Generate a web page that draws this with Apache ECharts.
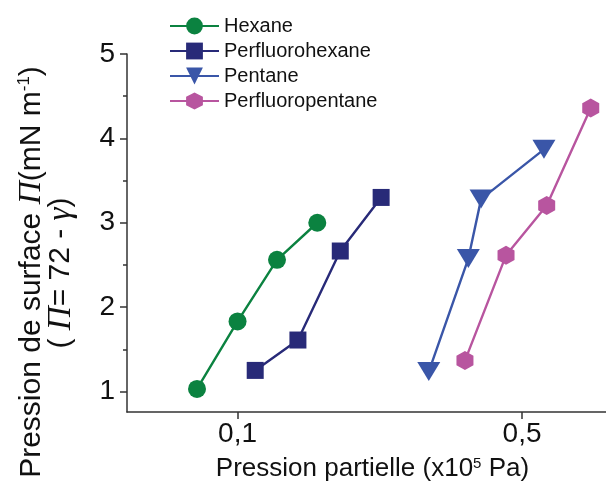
<!DOCTYPE html>
<html>
<head>
<meta charset="utf-8">
<script src="https://cdn.jsdelivr.net/npm/echarts@6/dist/echarts.min.js"></script>
<style>
  html, body { margin: 0; padding: 0; background: #ffffff; }
  #chart { width: 606px; height: 487px; }
</style>
</head>
<body>
<div id="chart"></div>
<script>
// Partial pressure (x10^5 Pa) and surface pressure (mN/m) for each vapour
const hexaneP = [0.0795, 0.1, 0.125, 0.157];
const hexaneV = [1.03, 1.83, 2.56, 3.0];
const pfHexaneP = [0.1105, 0.1407, 0.1788, 0.2253];
const pfHexaneV = [1.25, 1.61, 2.665, 3.30];
const pentaneP = [0.295, 0.369, 0.3966, 0.566];
const pentaneV = [1.236, 2.575, 3.28, 3.87];
const pfPentaneP = [0.362, 0.4567, 0.5748, 0.7375];
const pfPentaneV = [1.366, 2.614, 3.205, 4.359];

const seriesNames = ['Hexane', 'Perfluorohexane', 'Pentane', 'Perfluoropentane'];
const xTicks = [0.1, 0.5];
const yTicks = [1, 2, 3, 4, 5];
const yMinorTicks = [1.5, 2.5, 3.5, 4.5];

const FONT = '"Liberation Sans", Arial, sans-serif';
const SERIF = '"Liberation Serif", "Times New Roman", serif';
const AXIS_COLOR = '#333333';

const HEXAGON = 'path://M0,-1 L0.866,-0.5 L0.866,0.5 L0,1 L-0.866,0.5 L-0.866,-0.5 Z';
const TRIANGLE_DOWN = 'path://M0,0 L2,0 L1,1.73 Z';

function pairs(xs, ys) {
  return xs.map((x, i) => [x, ys[i]]);
}

function lineSeries(name, xs, ys, color, symbol, size) {
  return {
    name: name,
    type: 'line',
    data: pairs(xs, ys),
    symbol: symbol,
    symbolSize: size,
    showSymbol: true,
    lineStyle: { color: color, width: 2.4 },
    itemStyle: { color: color },
    emphasis: { disabled: true },
    animation: false
  };
}

const chart = echarts.init(document.getElementById('chart'), null, { renderer: 'canvas' });

chart.setOption({
  backgroundColor: '#ffffff',
  animation: false,
  grid: { left: 127, right: 0, top: 54, bottom: 74, containLabel: false },
  legend: {
    orient: 'vertical',
    left: 169,
    top: 16,
    itemWidth: 49,
    itemHeight: 21,
    itemGap: 5,
    padding: 0,
    textStyle: { fontFamily: FONT, fontSize: 20, color: '#111111' },
    data: seriesNames
  },
  xAxis: {
    type: 'log',
    logBase: 10,
    min: 0.0535,
    max: 0.804,
    axisLine: { show: true, lineStyle: { color: AXIS_COLOR, width: 1.5 } },
    axisTick: { show: true, customValues: xTicks, length: 7, inside: false, lineStyle: { color: AXIS_COLOR, width: 1.5 } },
    minorTick: { show: false },
    splitLine: { show: false },
    axisLabel: {
      customValues: xTicks,
      formatter: v => String(v).replace('.', ','),
      fontFamily: FONT,
      fontSize: 28,
      color: '#111111',
      margin: 8
    },
    name: 'Pression partielle (x10{sup|5} Pa)',
    nameLocation: 'middle',
    nameGap: 44,
    nameTextStyle: {
      fontFamily: FONT,
      fontSize: 26,
      color: '#111111',
      padding: [0, 0, 0, 12],
      rich: { sup: { fontFamily: FONT, fontSize: 15, verticalAlign: 'top', color: '#111111' } }
    }
  },
  yAxis: [
    {
      type: 'value',
      min: 0.757,
      max: 5,
      axisLine: { show: true, lineStyle: { color: AXIS_COLOR, width: 1.5 } },
      axisTick: { show: true, customValues: yTicks, length: 7, inside: false, lineStyle: { color: AXIS_COLOR, width: 1.5 } },
      splitLine: { show: false },
      axisLabel: {
        customValues: yTicks,
        fontFamily: FONT,
        fontSize: 28,
        color: '#111111',
        margin: 12
      }
    },
    {
      type: 'value',
      min: 0.757,
      max: 5,
      position: 'left',
      axisLine: { show: false },
      axisTick: { show: true, customValues: yMinorTicks, length: 4, inside: false, lineStyle: { color: AXIS_COLOR, width: 1.5 } },
      splitLine: { show: false },
      axisLabel: { show: false, customValues: yMinorTicks }
    }
  ],
  graphic: [
    {
      type: 'text',
      x: 32,
      y: 272,
      rotation: Math.PI / 2,
      silent: true,
      style: {
        text: 'Pression de surface {i|Π}(mN m{sup|-1})',
        fontFamily: FONT,
        fontSize: 30,
        fill: '#111111',
        align: 'center',
        verticalAlign: 'middle',
        rich: {
          i: { fontFamily: SERIF, fontStyle: 'italic', fontSize: 32, fill: '#111111' },
          sup: { fontFamily: FONT, fontSize: 17, verticalAlign: 'top', fill: '#111111' }
        }
      }
    },
    {
      type: 'text',
      x: 61,
      y: 273,
      rotation: Math.PI / 2,
      silent: true,
      style: {
        text: '( {i|Π}= 72 - {i|γ})',
        fontFamily: FONT,
        fontSize: 30,
        fill: '#111111',
        align: 'center',
        verticalAlign: 'middle',
        rich: {
          i: { fontFamily: SERIF, fontStyle: 'italic', fontSize: 33, fill: '#111111' }
        }
      }
    }
  ],
  series: [
    lineSeries('Hexane', hexaneP, hexaneV, '#0b8240', 'circle', 18),
    lineSeries('Perfluorohexane', pfHexaneP, pfHexaneV, '#282a78', 'rect', 17),
    lineSeries('Pentane', pentaneP, pentaneV, '#3a56a8', TRIANGLE_DOWN, [23, 19]),
    lineSeries('Perfluoropentane', pfPentaneP, pfPentaneV, '#b8559f', HEXAGON, [17, 19])
  ]
});
</script>
</body>
</html>
